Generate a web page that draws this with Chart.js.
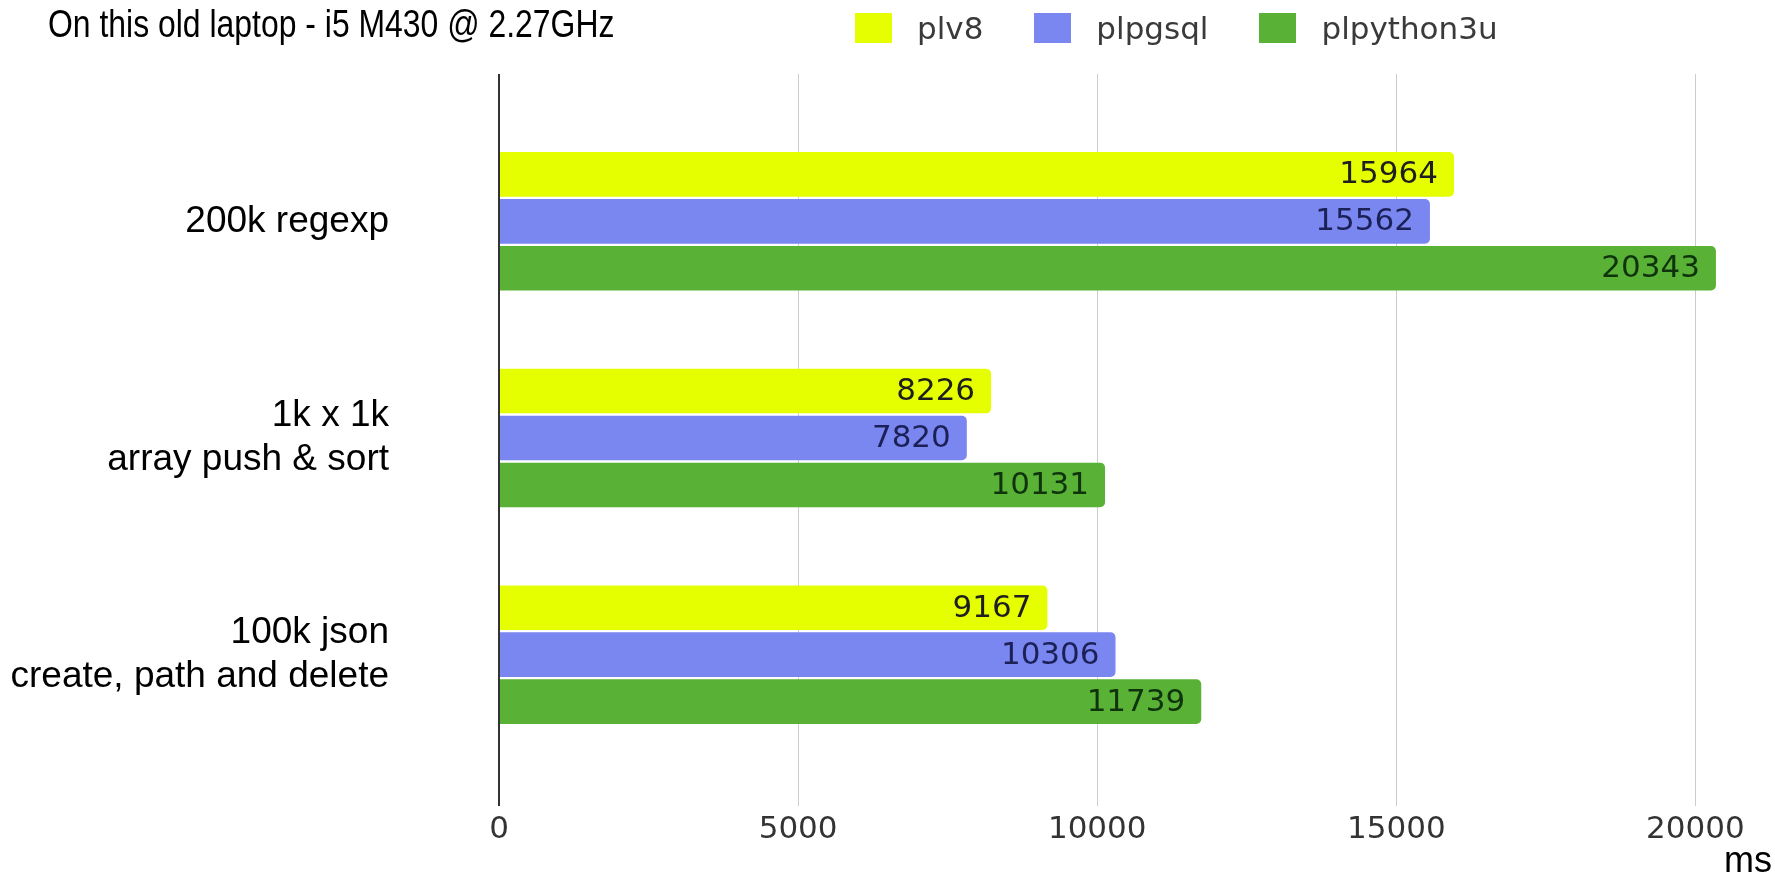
<!DOCTYPE html>
<html>
<head>
<meta charset="utf-8">
<script src="https://cdn.jsdelivr.net/npm/chart.js@4"></script>
<style>
  html, body { margin: 0; padding: 0; background: #fff; }
  #wrap { position: relative; width: 1775px; height: 876px; overflow: hidden; }
  #chart { position: absolute; left: 0; top: 0; }
  #title {
    position: absolute; left: 48px; top: 3px;
    font: 38px "Liberation Sans", Arial, sans-serif; color: #000;
    white-space: nowrap; transform: scaleX(0.84); transform-origin: left top;
  }
  #legend {
    position: absolute; left: 855px; top: 13px; display: flex; align-items: center;
    font: 31px "DejaVu Sans", sans-serif; color: #3a3a3a; white-space: nowrap;
  }
  .item { display: flex; align-items: center; margin-right: 51px; height: 30px; }
  .swatch { width: 37px; height: 30px; margin-right: 25px; }
</style>
</head>
<body>
<div id="wrap">
  <canvas id="chart" width="1775" height="876"></canvas>
  <div id="title"></div>
  <div id="legend"></div>
</div>
<script>
// Benchmark timings, ms (lower is better)
const TITLE = "On this old laptop - i5 M430 @ 2.27GHz"
const CATEGORIES = ["200k regexp", ["1k x 1k", "array push & sort"], ["100k json", "create, path and delete"]]
const SERIES = ["plv8", "plpgsql", "plpython3u"]
const PLV8 = [15964, 8226, 9167]
const PLPGSQL = [15562, 7820, 10306]
const PLPYTHON3U = [20343, 10131, 11739]
const X_TICKS = [0, 5000, 10000, 15000, 20000]
const X_MAX = 21280
const X_TITLE = "ms"

const BAR_COLORS = ["#e5ff00", "#7a87f0", "#59b236"]
const LABEL_COLORS = ["#1e1e1e", "#1b2157", "#0f330c"]
const GRID_COLOR = "#cccccc"
const ZERO_COLOR = "#333333"
const LABEL_INSET = 16

// the 0 line is the dark axis, the rest are light gridlines
const gridColor = (c) => (c.tick && c.tick.value === 0 ? ZERO_COLOR : GRID_COLOR)
const gridWidth = (c) => (c.tick && c.tick.value === 0 ? 2 : 1)
const fixedTicks = (axis) => { axis.ticks = X_TICKS.map((v) => ({ value: v })) }

// value text drawn inside the end of each bar
const valueLabels = {
  id: "valueLabels",
  afterDatasetsDraw(chart) {
    const { ctx } = chart
    ctx.save()
    ctx.font = "31px 'DejaVu Sans'"
    ctx.textAlign = "right"
    ctx.textBaseline = "middle"
    chart.data.datasets.forEach((ds, i) => {
      ctx.fillStyle = LABEL_COLORS[i]
      chart.getDatasetMeta(i).data.forEach((bar, j) => {
        ctx.fillText(String(ds.data[j]), bar.x - LABEL_INSET, bar.y + 1)
      })
    })
    ctx.restore()
  }
}

const chart = new Chart(document.getElementById("chart").getContext("2d"), {
  type: "bar",
  plugins: [valueLabels],
  data: {
    labels: CATEGORIES,
    datasets: [PLV8, PLPGSQL, PLPYTHON3U].map((values, i) => ({
      label: SERIES[i],
      data: values,
      backgroundColor: BAR_COLORS[i],
      borderWidth: 0,
      borderRadius: 5,
      borderSkipped: "start",
      barPercentage: 0.95,
      categoryPercentage: 0.65
    }))
  },
  options: {
    indexAxis: "y",
    responsive: false,
    animation: false,
    layout: { padding: { top: 74, right: 3, bottom: 0, left: 0 } },
    plugins: { legend: { display: false }, tooltip: { enabled: false } },
    scales: {
      x: {
        type: "linear",
        position: "bottom",
        min: 0,
        max: X_MAX,
        afterBuildTicks: fixedTicks,
        afterFit: (axis) => { axis.height = 113 },
        grid: { color: gridColor, tickColor: gridColor, lineWidth: gridWidth, tickLength: 43 },
        border: { display: false },
        ticks: {
          padding: 5,
          color: "#333",
          maxRotation: 0,
          font: { family: "DejaVu Sans", size: 31 },
          callback: (v) => String(v)
        },
        title: {
          display: true,
          text: X_TITLE,
          align: "end",
          color: "#000",
          padding: 0,
          font: { family: "Liberation Sans", size: 36, lineHeight: 0.8 }
        }
      },
      // only carries the gridline stubs above the first group
      x2: {
        type: "linear",
        position: "top",
        min: 0,
        max: X_MAX,
        afterBuildTicks: fixedTicks,
        afterFit: (axis) => { axis.height = 39 },
        grid: { color: gridColor, tickColor: gridColor, lineWidth: gridWidth, drawOnChartArea: false, tickLength: 39 },
        border: { display: false },
        ticks: { display: false }
      },
      y: {
        type: "category",
        offset: true,
        afterFit: (axis) => { axis.width = 499 },
        // hidden tick marks used as the gap between labels and the axis
        grid: { display: false, drawTicks: true, tickLength: 110 },
        border: { display: false },
        ticks: {
          padding: 0,
          color: "#000",
          font: { family: "Liberation Sans", size: 37 }
        }
      }
    }
  }
})

document.getElementById("title").textContent = TITLE
const legend = document.getElementById("legend")
chart.data.datasets.forEach((ds) => {
  const item = document.createElement("div")
  item.className = "item"
  const sw = document.createElement("span")
  sw.className = "swatch"
  sw.style.background = ds.backgroundColor
  const txt = document.createElement("span")
  txt.textContent = ds.label
  item.append(sw, txt)
  legend.append(item)
})
</script>
</body>
</html>
